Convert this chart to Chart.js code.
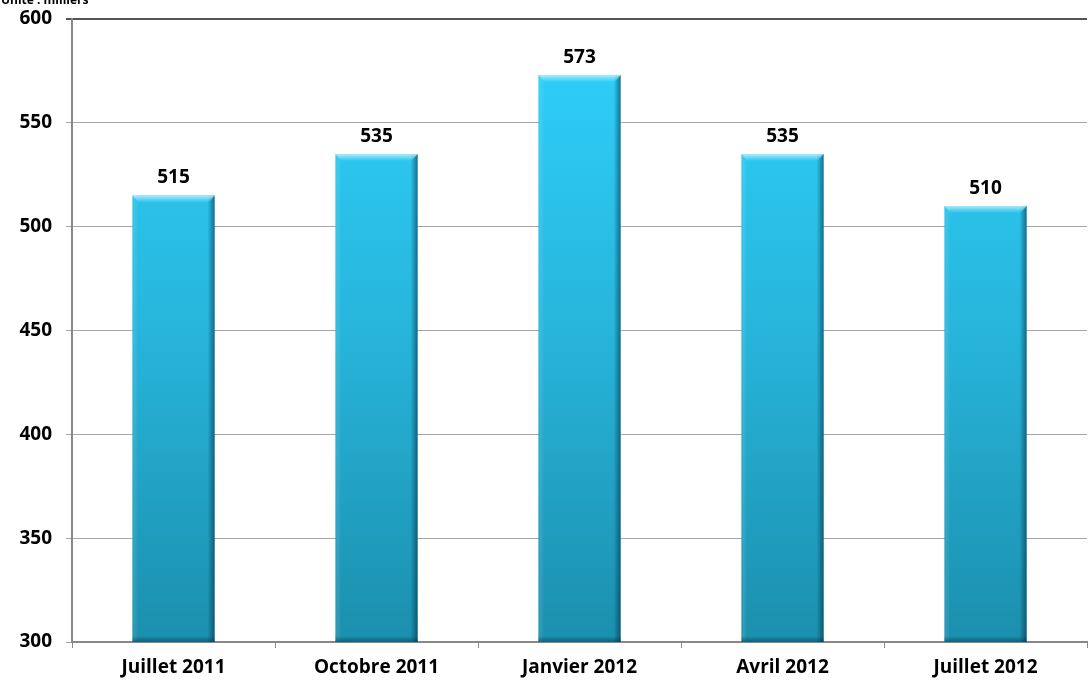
<!DOCTYPE html>
<html><head><meta charset="utf-8">
<script src="https://cdn.jsdelivr.net/npm/chart.js@4/dist/chart.umd.min.js"></script>
<style>html,body{margin:0;padding:0;background:#fff;}#wrap{width:1088px;height:684px;position:relative;}</style>
</head><body><div id="wrap"><canvas id="c" width="1088" height="684"></canvas></div>
<script>
const categories = ["Juillet 2011", "Octobre 2011", "Janvier 2012", "Avril 2012", "Juillet 2012"];
const values = [515, 535, 573, 535, 510];
const yTicks = [300, 350, 400, 450, 500, 550, 600];
const unitLabel = "Unité : milliers";
const FONT = "'Open Sans', 'DejaVu Sans', sans-serif";

const labelPlugin = {
  id: 'labels',
  afterDatasetsDraw(chart) {
    const ctx = chart.ctx;
    const meta = chart.getDatasetMeta(0);
    ctx.save();
    ctx.font = "bold 19px " + FONT;
    ctx.fillStyle = '#000';
    ctx.textAlign = 'center';
    ctx.textBaseline = 'bottom';
    meta.data.forEach((bar, i) => {
      ctx.fillText(String(values[i]), bar.x, bar.y - 8);
    });
    ctx.font = "bold 12px " + FONT;
    ctx.textAlign = 'left';
    ctx.textBaseline = 'alphabetic';
    ctx.fillText(unitLabel, 1, 4);
    ctx.restore();
  }
};

const bevelPlugin = {
  id: 'bevel',
  afterDatasetsDraw(chart) {
    const ctx = chart.ctx;
    const meta = chart.getDatasetMeta(0);
    const ca = chart.chartArea;
    ctx.save();
    meta.data.forEach(bar => {
      const l = bar.x - bar.width / 2, r = bar.x + bar.width / 2, t = bar.y, b = Math.min(bar.base, ca.bottom);
      let g = ctx.createLinearGradient(l, 0, l + 6, 0);
      g.addColorStop(0, 'rgba(255,255,255,0.0)');
      g.addColorStop(0.3, 'rgba(255,255,255,0.10)');
      g.addColorStop(1, 'rgba(255,255,255,0)');
      ctx.fillStyle = g; ctx.fillRect(l, t, 6, b - t);
      g = ctx.createLinearGradient(r - 7, 0, r, 0);
      g.addColorStop(0, 'rgba(0,40,60,0)');
      g.addColorStop(1, 'rgba(0,40,60,0.55)');
      ctx.fillStyle = g; ctx.fillRect(r - 7, t, 7, b - t);
      g = ctx.createLinearGradient(0, t, 0, t + 7);
      g.addColorStop(0, 'rgba(180,240,255,0.9)');
      g.addColorStop(1, 'rgba(180,240,255,0)');
      ctx.fillStyle = g;
      ctx.beginPath();
      ctx.moveTo(l, t); ctx.lineTo(r, t); ctx.lineTo(r - 6, t + 7); ctx.lineTo(l + 6, t + 7); ctx.closePath(); ctx.fill();
      g = ctx.createLinearGradient(0, b - 6, 0, b);
      g.addColorStop(0, 'rgba(0,50,70,0)');
      g.addColorStop(1, 'rgba(0,50,70,0.5)');
      ctx.fillStyle = g; ctx.fillRect(l, b - 6, r - l, 6);
    });
    ctx.restore();
  }
};

new Chart(document.getElementById('c'), {
  type: 'bar',
  data: {
    labels: categories,
    datasets: [{
      data: values,
      backgroundColor: (c) => {
        const ca = c.chart.chartArea;
        if (!ca) return '#2bc8f0';
        const g = c.chart.ctx.createLinearGradient(0, ca.top, 0, ca.bottom);
        g.addColorStop(0, '#2fd2fd');
        g.addColorStop(0.5, '#27b5db');
        g.addColorStop(1, '#1b8fad');
        return g;
      },
      borderWidth: 0,
      categoryPercentage: 1,
      barPercentage: 0.405
    }]
  },
  options: {
    responsive: false,
    animation: false,
    devicePixelRatio: 1,
    layout: { padding: { top: 19, right: 1, left: 0, bottom: 0 } },
    plugins: { legend: { display: false }, tooltip: { enabled: false } },
    scales: {
      x: {
        grid: { offset: true, drawOnChartArea: false, drawTicks: true, tickLength: 6, color: '#888', lineWidth: 1 },
        border: { color: '#888', width: 2 },
        ticks: { color: '#000', font: { family: FONT, size: 19, weight: 'bold' }, padding: 8, maxRotation: 0 },
        afterFit(s) { s.height = 42; s.paddingLeft = 0; s.paddingRight = 0; }
      },
      y: {
        min: 300, max: 600,
        afterBuildTicks(s) { s.ticks = yTicks.map(v => ({ value: v })); },
        grid: {
          color: (c) => c.tick && c.tick.value === 600 ? '#555' : '#a6a6a6',
          lineWidth: (c) => c.tick && c.tick.value === 600 ? 2 : 1,
          drawTicks: true, tickLength: 6
        },
        border: { color: '#888', width: 2 },
        ticks: { color: '#000', font: { family: FONT, size: 19, weight: 'bold' }, padding: 14 },
        afterFit(s) { s.width = 72; s.paddingTop = 0; s.paddingBottom = 0; }
      }
    }
  },
  plugins: [labelPlugin, bevelPlugin]
});
</script></body></html>
